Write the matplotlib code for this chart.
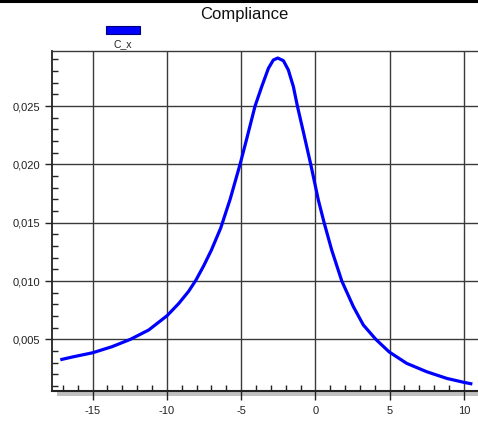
import matplotlib
matplotlib.use("Agg")
import matplotlib.pyplot as plt
from matplotlib.lines import Line2D
from matplotlib.patches import Rectangle
from matplotlib.ticker import MultipleLocator, FuncFormatter

plt.rcParams['font.family'] = ['Liberation Sans', 'DejaVu Sans']

title = "Compliance"
series_name = "C_x"

# values
x_vals = [-17.17, -16.38, -14.99, -13.69, -12.45, -11.22, -9.98, -9.20, -8.53, -8.03,
          -7.52, -7.00, -6.37, -5.74, -5.07, -4.62, -4.06, -3.61, -3.16, -2.83,
          -2.53, -2.15, -1.82, -1.48, -1.21, -0.81, -0.31, 0.20, 0.59, 1.10,
          1.78, 2.56, 3.23, 4.07, 4.98, 6.15, 7.50, 8.85, 10.01, 10.57]
c_x = [0.00325, 0.00348, 0.00385, 0.00437, 0.00500, 0.00580, 0.00703, 0.00807, 0.00912, 0.01010,
       0.01130, 0.01265, 0.01455, 0.01700, 0.02000, 0.02220, 0.02500, 0.02667, 0.02824, 0.02895,
       0.02912, 0.02889, 0.02810, 0.02667, 0.02500, 0.02280, 0.02000, 0.01695, 0.01500, 0.01266,
       0.01000, 0.00780, 0.00623, 0.00500, 0.00391, 0.00294, 0.00222, 0.00165, 0.00131, 0.00117]

W, H = 478, 423
fig = plt.figure(figsize=(W / 100, H / 100), dpi=100)
ax = fig.add_axes([52.3 / W, 1 - 391 / H, 1 - 52.3 / W, (391 - 51.5) / H])

ax.plot(x_vals, c_x, color='#0000ff', lw=2.3, solid_capstyle='butt',
        solid_joinstyle='round', zorder=3)

ax.set_xlim(-17.71, 10.95)
ax.set_ylim(0.00057, 0.02968)

ax.xaxis.set_major_locator(MultipleLocator(5))
ax.xaxis.set_minor_locator(MultipleLocator(1))
ax.yaxis.set_major_locator(MultipleLocator(0.005))
ax.yaxis.set_minor_locator(MultipleLocator(0.001))
ax.xaxis.set_major_formatter(FuncFormatter(lambda v, p: '%d' % round(v)))
ax.yaxis.set_major_formatter(FuncFormatter(lambda v, p: ('%.3f' % v).replace('.', ',')))

ax.tick_params(axis='both', which='major', direction='out', length=5, width=1,
               color='#222222', labelsize=8, labelcolor='#222222')
ax.tick_params(axis='x', which='major', length=6.5, pad=4)
ax.tick_params(axis='y', which='major', pad=4)
ax.tick_params(axis='both', which='minor', direction='in', length=4.5, width=1, color='#222222')
ax.tick_params(top=False, right=False, which='both')

ax.grid(True, which='major', color='#3a3a3a', lw=1)
ax.set_axisbelow(True)

ax.spines['right'].set_visible(False)
ax.spines['top'].set_color('#3a3a3a')
ax.spines['top'].set_linewidth(1)
ax.spines['left'].set_color('#222222')
ax.spines['left'].set_linewidth(1.3)
ax.spines['bottom'].set_color('#222222')
ax.spines['bottom'].set_linewidth(1.5)

# shadow under the x axis
fig.add_artist(Rectangle((57.3 / W, 1 - 395.5 / H), 1 - 57.3 / W, 4.3 / H,
                         transform=fig.transFigure, color='#c0c0c0', lw=0, zorder=0))

# thick rule at the top of the figure
fig.add_artist(Line2D([0, 1], [1 - 1.5 / H, 1 - 1.5 / H], transform=fig.transFigure,
                      color='black', lw=2.2))

fig.text(244.5 / W, 1 - 14 / H, title, ha='center', va='center', fontsize=12, color='#111111')

# legend: swatch above its label
fig.add_artist(Rectangle((105.5 / W, 1 - 34 / H), 34.5 / W, 7.5 / H,
                         transform=fig.transFigure, facecolor='#0000ff',
                         edgecolor='#00007a', lw=0.8))
fig.text(123 / W, 1 - 44 / H, series_name, ha='center', va='center', fontsize=7.5, color='#222222')

fig.savefig('out.png', dpi=100)
